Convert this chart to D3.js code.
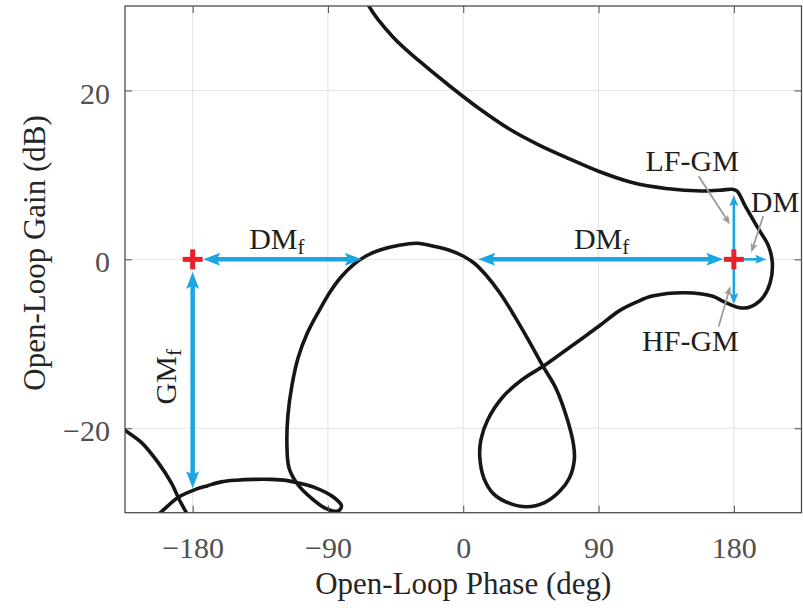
<!DOCTYPE html>
<html>
<head>
<meta charset="utf-8">
<script src="https://cdn.jsdelivr.net/npm/d3@7"></script>
<style>
  body { margin: 0; background: #fff; }
  svg { display: block; font-family: "Liberation Serif", "DejaVu Serif", serif; }
</style>
</head>
<body>
<script>
const xTicks = [-180, -90, 0, 90, 180];
const yTicks = [-20, 0, 20];

// Nichols trace, [phase deg, gain dB]
const mainCurve = [
  [-66, 31.6], [-63.1, 30.1], [-46.6, 26.3], [-28.7, 23.4], [-8.8, 20.5], [11, 17.8],
  [30.9, 15.4], [50.8, 13.5], [70.6, 11.9], [90.4, 10.4], [112.3, 9.1], [134.8, 8.4],
  [158.6, 8.1], [172, 8.2], [178.5, 8.3], [182, 8.1],
  [187.6, 6.3], [196.4, 3.6], [203, 1.6], [205.6, -0.4], [204.1, -2.8], [198.5, -4.7],
  [189.7, -5.7], [183.1, -5.7], [174.3, -5.1], [165.5, -4.35], [147.8, -3.95], [125.7, -4.35],
  [114.8, -5.1], [103.7, -6.1], [90.4, -7.9], [77.2, -9.6], [64, -11.3], [53.1, -12.67],
  [39.5, -14.2], [26.3, -16.3], [16.3, -19.0], [11.7, -21.4], [11.0, -23.4], [13.7, -25.9],
  [20.3, -27.8], [30.9, -28.9], [42.1, -29.3], [54.1, -28.8], [64, -27.5], [70.6, -25.9],
  [73.9, -23.7], [73.3, -21.9], [69.3, -19.0], [62, -15.4], [53.1, -12.67],
  [43.1, -9.47], [33.8, -6.63], [24.4, -3.99], [15.1, -1.86], [7.15, -0.43], [-0.17, 0.4],
  [-8.8, 1.05], [-18.8, 1.52], [-30.8, 1.9], [-43.4, 1.64], [-55.4, 1.11], [-64.7, 0.4],
  [-73.4, -0.67], [-81.3, -2.09], [-88.6, -3.87], [-96, -6.12], [-104, -8.84], [-109.9, -11.68],
  [-113.9, -14.88], [-116.6, -18.4], [-117.3, -21.95], [-115.9, -24.7], [-110.3, -26.6],
  [-102.2, -28.1], [-91.5, -29.5], [-83.3, -29.8], [-81, -29.2], [-86, -28.2],
  [-99, -27.0], [-110.3, -26.45], [-117, -26.2], [-128, -26.05], [-139.2, -26.05],
  [-151, -26.15], [-161, -26.35], [-170, -26.8], [-178.9, -27.3], [-189.7, -28.2],
  [-200.7, -29.86], [-207, -30.8]
];

// phase-wrapped piece at the far left
const wrapCurve = [
  [-227, -19.9], [-225.2, -20.2], [-214, -21.7], [-202.8, -24.1], [-194.1, -26.5],
  [-188.8, -28.5], [-184.2, -30], [-182, -30.8]
];

const critPoints = [[-180, 0], [180, 0]];

// double headed margin arrows (DMf, DMf, GMf)
const bigArrows = [
  [[-173, 0], [-67.5, 0]],
  [[10, 0], [173, 0]],
  [[-180, -1.5], [-180, -27.1]]
];
// single headed arrows out of the +180 point (LF-GM, HF-GM, DM)
const smallArrows = [
  [[180, 0], [180, 7.6]],
  [[180, 0], [180, -5.3]],
  [[180, 0], [201.5, 0]]
];
// grey pointers from labels
const pointers = [
  [[156.6, 9.85], [177.4, 4.15]],
  [[199.5, 5.1], [191.6, 0.83]],
  [[169.9, -7.95], [177.6, -3.2]]
];

const labels = [
  { main: "DM", sub: "f", at: [-124, 1.2] },
  { main: "DM", sub: "f", at: [92, 1.2] },
  { main: "LF-GM", sub: "", at: [152.3, 10.5] },
  { main: "DM", sub: "", at: [207.4, 5.55] },
  { main: "HF-GM", sub: "", at: [151.1, -10.9] }
];
const gmLabel = { main: "GM", sub: "f", at: [-191, -13.9] };

const W = 803, H = 608;
const margin = { top: 6, right: 1.5, bottom: 95.3, left: 125 };
const blue = "#1ba6e2", red = "#e8202a";

const svg = d3.select("body").append("svg")
  .attr("width", W)
  .attr("height", H);

const x = d3.scaleLinear().domain([-225, 225]).range([margin.left, W - margin.right]);
const y = d3.scaleLinear().domain([-30, 30]).range([H - margin.bottom, margin.top]);

svg.append("defs").append("clipPath").attr("id", "plotclip")
  .append("rect")
  .attr("x", x(-225)).attr("y", y(30))
  .attr("width", x(225) - x(-225)).attr("height", y(-30) - y(30));

// grid
const grid = svg.append("g").attr("stroke", "#e3e3e3").attr("stroke-width", 1);
grid.selectAll(".gx").data(xTicks).join("line")
  .attr("x1", d => x(d)).attr("x2", d => x(d))
  .attr("y1", y(30)).attr("y2", y(-30));
grid.selectAll(".gy").data(yTicks).join("line")
  .attr("y1", d => y(d)).attr("y2", d => y(d))
  .attr("x1", x(-225)).attr("x2", x(225));

// curves
const line = d3.line()
  .x(d => x(d[0]))
  .y(d => y(d[1]))
  .curve(d3.curveCatmullRom.alpha(0.5));

const plot = svg.append("g").attr("clip-path", "url(#plotclip)");
plot.selectAll(".trace").data([mainCurve, wrapCurve]).join("path")
  .attr("class", "trace")
  .attr("fill", "none")
  .attr("stroke", "#161616")
  .attr("stroke-width", 3.6)
  .attr("stroke-linejoin", "round")
  .attr("d", line);

function headPath(tip, tail, len, hw) {
  const dx = tip[0] - tail[0], dy = tip[1] - tail[1];
  const L = Math.hypot(dx, dy), ux = dx / L, uy = dy / L;
  const bx = tip[0] - ux * len, by = tip[1] - uy * len;
  const nx = tip[0] - ux * len * 0.8, ny = tip[1] - uy * len * 0.8;
  return `M${tip[0]},${tip[1]}L${bx - uy * hw},${by + ux * hw}L${nx},${ny}L${bx + uy * hw},${by - ux * hw}Z`;
}
const px = d => [x(d[0]), y(d[1])];
function shrink(a, b, da, db) {
  const dx = b[0] - a[0], dy = b[1] - a[1];
  const L = Math.hypot(dx, dy), ux = dx / L, uy = dy / L;
  return [[a[0] + ux * da, a[1] + uy * da], [b[0] - ux * db, b[1] - uy * db]];
}

// big double arrows
const arrows = svg.append("g");
bigArrows.forEach(([s, e]) => {
  const a = px(s), b = px(e);
  const [p, q] = shrink(a, b, 10, 10);
  arrows.append("line")
    .attr("x1", p[0]).attr("y1", p[1]).attr("x2", q[0]).attr("y2", q[1])
    .attr("stroke", blue).attr("stroke-width", 4.5);
  arrows.append("path").attr("d", headPath(a, b, 17, 6.5)).attr("fill", blue);
  arrows.append("path").attr("d", headPath(b, a, 17, 6.5)).attr("fill", blue);
});
smallArrows.forEach(([s, e]) => {
  const a = px(s), b = px(e);
  const [p, q] = shrink(a, b, 0, 6);
  arrows.append("line")
    .attr("x1", p[0]).attr("y1", p[1]).attr("x2", q[0]).attr("y2", q[1])
    .attr("stroke", blue).attr("stroke-width", 2.6);
  arrows.append("path").attr("d", headPath(b, a, 11, 4.5)).attr("fill", blue);
});

// red crosses
const crosses = svg.append("g").attr("stroke", red).attr("stroke-width", 5);
crosses.selectAll(".ch").data(critPoints).join("line")
  .attr("x1", d => x(d[0]) - 10).attr("x2", d => x(d[0]) + 10)
  .attr("y1", d => y(d[1])).attr("y2", d => y(d[1]));
crosses.selectAll(".cv").data(critPoints).join("line")
  .attr("x1", d => x(d[0])).attr("x2", d => x(d[0]))
  .attr("y1", d => y(d[1]) - 10).attr("y2", d => y(d[1]) + 10);

// grey pointers
const ptr = svg.append("g");
pointers.forEach(([s, e]) => {
  const a = px(s), b = px(e);
  const [p, q] = shrink(a, b, 0, 5);
  ptr.append("line")
    .attr("x1", p[0]).attr("y1", p[1]).attr("x2", q[0]).attr("y2", q[1])
    .attr("stroke", "#9a9a9a").attr("stroke-width", 1.8);
  ptr.append("path").attr("d", headPath(b, a, 9, 3.5)).attr("fill", "#9a9a9a");
});

// labels
function addLabel(g, lab) {
  const t = g.append("text")
    .attr("text-anchor", "middle")
    .attr("font-size", 30)
    .attr("fill", "#1e1e1e");
  t.append("tspan").text(lab.main);
  if (lab.sub) t.append("tspan").attr("font-size", 21).attr("dy", 5).text(lab.sub);
  return t;
}
labels.forEach(lab => {
  addLabel(svg, lab).attr("x", x(lab.at[0])).attr("y", y(lab.at[1]));
});
addLabel(svg.append("g")
  .attr("transform", `translate(${x(gmLabel.at[0])},${y(gmLabel.at[1])}) rotate(-90)`), gmLabel);

// axes, ticks pointing in
const axisColor = "#4d4d4d";
function styleAxis(g) {
  g.select(".domain").remove();
  g.selectAll(".tick line").attr("stroke", axisColor).attr("stroke-width", 1);
  g.selectAll(".tick text")
    .attr("font-family", "Liberation Serif, DejaVu Serif, serif")
    .attr("font-size", 30)
    .attr("fill", "#505050");
}
svg.append("g")
  .attr("transform", `translate(0,${y(-30)})`)
  .call(d3.axisBottom(x).tickValues(xTicks).tickSize(-7).tickPadding(24))
  .call(styleAxis);
svg.append("g")
  .attr("transform", `translate(0,${y(30)})`)
  .call(d3.axisTop(x).tickValues(xTicks).tickSize(-7).tickFormat(""))
  .call(styleAxis);
svg.append("g")
  .attr("transform", `translate(${x(-225)},0)`)
  .call(d3.axisLeft(y).tickValues(yTicks).tickSize(-7).tickPadding(15))
  .call(styleAxis)
  .call(g => g.selectAll(".tick text").attr("dy", "0.42em"));
svg.append("g")
  .attr("transform", `translate(${x(225)},0)`)
  .call(d3.axisRight(y).tickValues(yTicks).tickSize(-7).tickFormat(""))
  .call(styleAxis);

svg.append("rect")
  .attr("x", x(-225)).attr("y", y(30))
  .attr("width", x(225) - x(-225)).attr("height", y(-30) - y(30))
  .attr("fill", "none").attr("stroke", axisColor).attr("stroke-width", 1.3);

// axis titles
svg.append("text")
  .attr("x", x(0)).attr("y", 594)
  .attr("text-anchor", "middle")
  .attr("font-size", 31)
  .attr("fill", "#262626")
  .text("Open-Loop Phase (deg)");
svg.append("text")
  .attr("transform", `translate(45,253) rotate(-90)`)
  .attr("text-anchor", "middle")
  .attr("font-size", 31)
  .attr("fill", "#262626")
  .text("Open-Loop Gain (dB)");
</script>
</body>
</html>
